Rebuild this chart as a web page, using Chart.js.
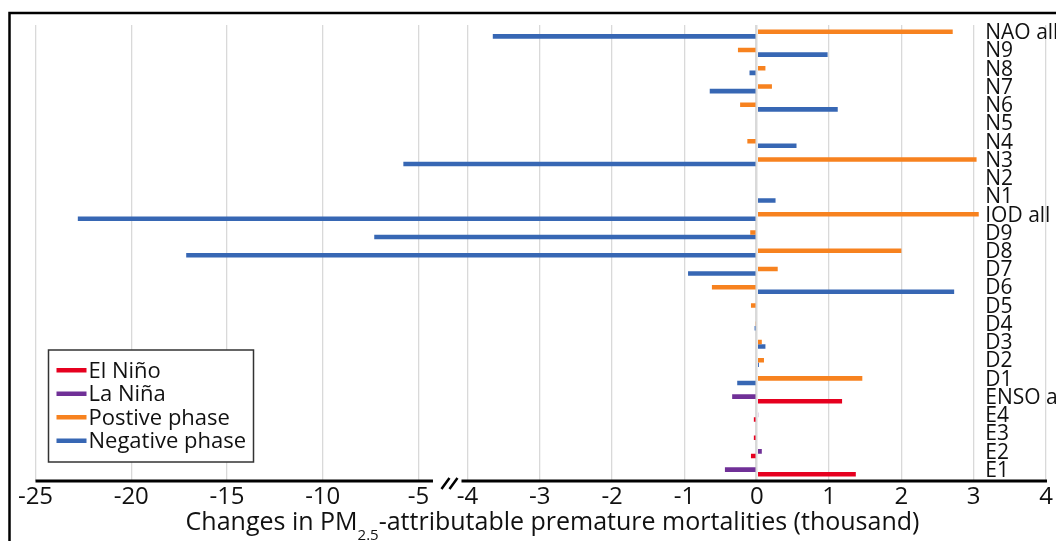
<!DOCTYPE html>
<html>
<head>
<meta charset="utf-8">
<script src="https://cdn.jsdelivr.net/npm/chart.js@4.4.1/dist/chart.umd.min.js"></script>
<style>
  html, body { margin: 0; padding: 0; background: #fff; }
  #wrap { width: 1056px; height: 541px; position: relative; }
</style>
</head>
<body>
<div id="wrap"><canvas id="chart-canvas"></canvas></div>
<script>
// rows, top to bottom
let categories = ["NAO all", "N9", "N8", "N7", "N6", "N5", "N4", "N3", "N2", "N1",
  "IOD all", "D9", "D8", "D7", "D6", "D5", "D4", "D3", "D2", "D1",
  "ENSO all", "E4", "E3", "E2", "E1"];

// thousand deaths
let positivePhase = [2.71, -0.26, 0.12, 0.21, -0.23, null, -0.13, 3.04, null, null,
  3.07, -0.09, 2.0, 0.29, -0.62, -0.08, -0.02, 0.07, 0.1, 1.46,
  null, null, null, null, null];
let negativePhase = [-3.65, 0.98, -0.1, -0.65, 1.12, null, 0.55, -5.79, null, 0.26,
  -22.79, -7.31, -17.13, -0.95, 2.73, null, -0.03, 0.12, 0.03, -0.27,
  null, null, null, null, null];
let laNina = [null, null, null, null, null, null, null, null, null, null,
  null, null, null, null, null, null, null, null, null, null,
  -0.34, 0.02, null, 0.07, -0.44];
let elNino = [null, null, null, null, null, null, null, null, null, null,
  null, null, null, null, null, null, null, null, null, null,
  1.18, -0.04, -0.04, -0.08, 1.37];

let xTicks = [-25, -20, -15, -10, -5, -4, -3, -2, -1, 0, 1, 2, 3, 4];

let FONT = '"Open Sans", sans-serif';

// x axis with a break between -5 and -4
let segments = [
  { from: -25, to: -5, start: 0, end: 0.379 },
  { from: -5, to: -4, start: 0.379, end: 0.4275 },
  { from: -4, to: 4, start: 0.4275, end: 1 },
];

let Linear = Chart.LinearScale || Chart.registry.getScale("linear");

class BrokenScale extends Linear {
  buildTicks() {
    return xTicks.map(function (v) { return { value: v }; });
  }
  getPixelForValue(value) {
    if (value === null || value === undefined || isNaN(value)) return NaN;
    let seg = segments[segments.length - 1];
    for (let s of segments) {
      if (value <= s.to) { seg = s; break; }
    }
    let t = (value - seg.from) / (seg.to - seg.from);
    return this.getPixelForDecimal(seg.start + t * (seg.end - seg.start));
  }
  getValueForPixel(pixel) {
    let d = this.getDecimalForPixel(pixel);
    let seg = segments[segments.length - 1];
    for (let s of segments) {
      if (d <= s.end) { seg = s; break; }
    }
    return seg.from + (d - seg.start) / (seg.end - seg.start) * (seg.to - seg.from);
  }
}
BrokenScale.id = "broken";
Chart.register(BrokenScale);

let decor = {
  id: "decor",
  afterDraw(chart) {
    let ctx = chart.ctx;
    let area = chart.chartArea;
    let x = chart.scales.x;
    let y = chart.scales.y;
    ctx.save();

    // frame
    ctx.strokeStyle = "#000";
    ctx.lineWidth = 2.5;
    ctx.beginPath();
    ctx.moveTo(9.5, 541);
    ctx.lineTo(9.5, 13);
    ctx.lineTo(1056, 13);
    ctx.stroke();

    // broken x axis line
    let yb = area.bottom;
    let x5 = x.getPixelForValue(-5);
    let x4 = x.getPixelForValue(-4);
    ctx.lineWidth = 3;
    ctx.beginPath();
    ctx.moveTo(area.left, yb);
    ctx.lineTo(x5 + 14.5, yb);
    ctx.moveTo(x4 - 6, yb);
    ctx.lineTo(area.right + 1, yb);
    ctx.stroke();
    ctx.lineWidth = 2.5;
    ctx.beginPath();
    ctx.moveTo(x5 + 23, yb + 8);
    ctx.lineTo(x5 + 31, yb - 3);
    ctx.moveTo(x5 + 31, yb + 8);
    ctx.lineTo(x5 + 39, yb - 3);
    ctx.stroke();

    // row labels inside the plot
    ctx.fillStyle = "#111";
    ctx.font = "21px " + FONT;
    ctx.textAlign = "left";
    ctx.textBaseline = "middle";
    let lx = x.getPixelForValue(3.16);
    chart.data.labels.forEach(function (lab, i) {
      ctx.fillText(lab, lx, y.getPixelForValue(i) - 1);
    });

    // legend box
    let bx = area.left + 13, bw = 205, bh = 112;
    let by = area.bottom - 19 - bh;
    ctx.fillStyle = "#fff";
    ctx.fillRect(bx, by, bw, bh);
    ctx.strokeStyle = "#333";
    ctx.lineWidth = 1.5;
    ctx.strokeRect(bx, by, bw, bh);
    ctx.font = "22px " + FONT;
    ctx.textBaseline = "alphabetic";
    [2, 3, 0, 1].forEach(function (di, k) {
      let ds = chart.data.datasets[di];
      let base = by + 27.5 + k * 23.5;
      ctx.fillStyle = ds.backgroundColor;
      ctx.fillRect(bx + 8, base - 9.5, 30, 4.5);
      ctx.fillStyle = "#111";
      ctx.fillText(ds.label, bx + 40, base);
    });

    // axis title with subscript
    let p1 = "Changes in PM", sub = "2.5", p2 = "-attributable premature mortalities (thousand)";
    let big = "25px " + FONT, small = "15px " + FONT;
    ctx.font = big;
    let w1 = ctx.measureText(p1).width, w3 = ctx.measureText(p2).width;
    ctx.font = small;
    let w2 = ctx.measureText(sub).width;
    let tx = 552.5 - (w1 + w2 + w3) / 2;
    let ty = 529.5;
    ctx.fillStyle = "#111";
    ctx.font = big;
    ctx.fillText(p1, tx, ty);
    ctx.font = small;
    ctx.fillText(sub, tx + w1, ty + 10);
    ctx.font = big;
    ctx.fillText(p2, tx + w1 + w2, ty);
    ctx.restore();
  },
};

let chart = new Chart(document.getElementById("chart-canvas").getContext("2d"), {
  type: "bar",
  data: {
    labels: categories,
    datasets: [
      { label: "Postive phase", data: positivePhase, backgroundColor: "#F7821F", stack: "upper" },
      { label: "Negative phase", data: negativePhase, backgroundColor: "#3767B4", stack: "lower" },
      { label: "El Niño", data: elNino, backgroundColor: "#E6001F", stack: "lower" },
      { label: "La Niña", data: laNina, backgroundColor: "#703097", stack: "upper" },
    ],
  },
  options: {
    indexAxis: "y",
    responsive: true,
    maintainAspectRatio: false,
    animation: false,
    categoryPercentage: 0.5,
    barPercentage: 1.0,
    layout: { padding: { top: 25, left: 35.5, right: 10, bottom: 0 } },
    scales: {
      x: {
        type: "broken",
        min: -25,
        max: 4,
        border: { display: false },
        grid: {
          color: "#d9d9d9",
          lineWidth: function (c) { return c.tick && c.tick.value === 0 ? 2.5 : 1.3; },
          drawTicks: false,
        },
        ticks: {
          autoSkip: false,
          maxRotation: 0,
          padding: 2,
          color: "#111",
          font: { family: FONT, size: 24 },
          callback: function (v) { return String(v); },
        },
        afterFit: function (scale) {
          scale.height = 60;
          scale.paddingLeft = 0;
          scale.paddingRight = 0;
        },
      },
      y: {
        display: false,
      },
    },
    plugins: {
      legend: { display: false },
      tooltip: { enabled: false },
    },
  },
  plugins: [decor],
});
</script>
</body>
</html>
